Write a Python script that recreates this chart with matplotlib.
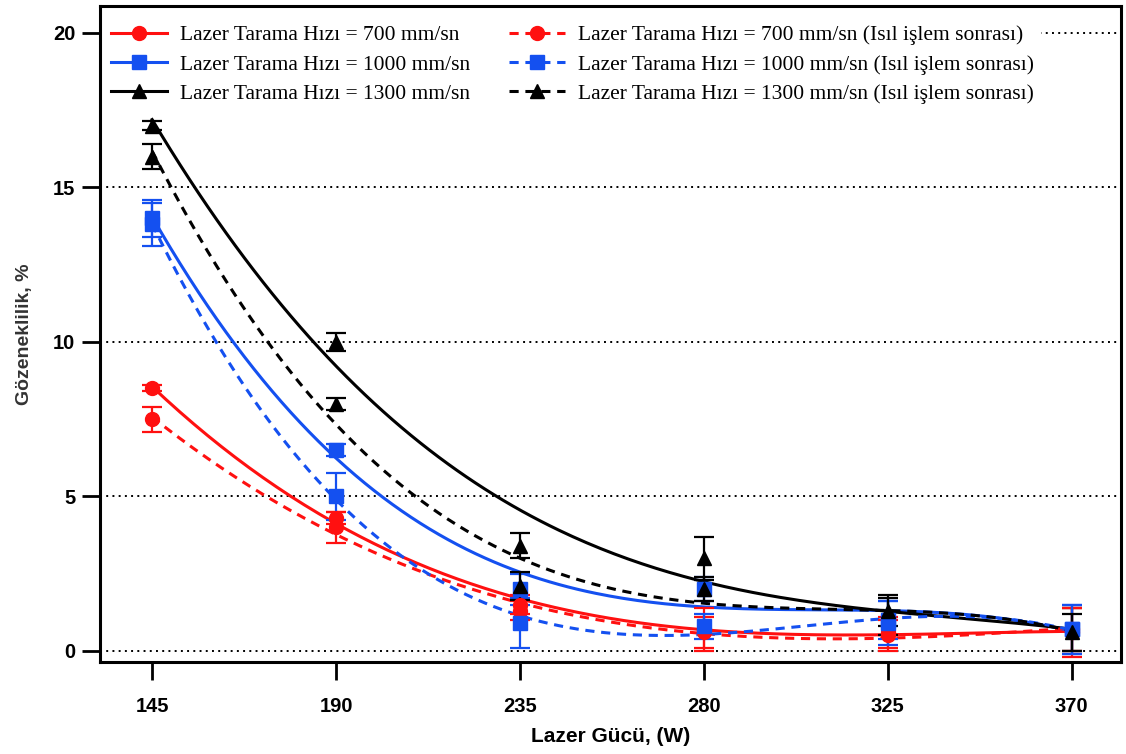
import numpy as np
import matplotlib
matplotlib.use("Agg")
import matplotlib.pyplot as plt
from matplotlib.lines import Line2D

# ── Data ─────────────────────────────────────────────────────────────────────
power = [145, 190, 235, 280, 325, 370]

v700 = [8.5, 4.3, 1.5, 0.7, 0.6, 0.6]
e700 = [0.1, 0.2, 0.3, 0.7, 0.5, 0.8]
v700_hs = [7.5, 4.0, 1.3, 0.6, 0.5, 0.7]
e700_hs = [0.4, 0.5, 0.3, 0.5, 0.5, 0.7]

v1000 = [14.0, 6.5, 2.0, 2.0, 1.0, 0.7]
e1000 = [0.6, 0.2, 0.5, 0.4, 0.6, 0.8]
v1000_hs = [13.8, 5.0, 0.9, 0.8, 0.9, 0.7]
e1000_hs = [0.7, 0.75, 0.8, 0.4, 0.7, 0.8]

v1300 = [17.0, 10.0, 3.4, 3.0, 1.1, 0.7]
e1300 = [0.15, 0.3, 0.4, 0.7, 0.6, 0.7]
v1300_hs = [16.0, 8.0, 2.1, 2.0, 1.3, 0.6]
e1300_hs = [0.4, 0.2, 0.45, 0.4, 0.5, 0.6]

labels = [
    "Lazer Tarama Hızı = 700 mm/sn",
    "Lazer Tarama Hızı = 1000 mm/sn",
    "Lazer Tarama Hızı = 1300 mm/sn",
    "Lazer Tarama Hızı = 700 mm/sn (Isıl işlem sonrası)",
    "Lazer Tarama Hızı = 1000 mm/sn (Isıl işlem sonrası)",
    "Lazer Tarama Hızı = 1300 mm/sn (Isıl işlem sonrası)",
]

RED, BLUE, BLACK = "#FF1010", "#1450F0", "#000000"
DASH = (3, 2.2)

series = [
    (v700, e700, RED, "o", False),
    (v1000, e1000, BLUE, "s", False),
    (v1300, e1300, BLACK, "^", False),
    (v700_hs, e700_hs, RED, "o", True),
    (v1000_hs, e1000_hs, BLUE, "s", True),
    (v1300_hs, e1300_hs, BLACK, "^", True),
]

fig = plt.figure(figsize=(11.26, 7.54), dpi=100)
ax = fig.add_axes([0.089, 0.122, 0.907, 0.870])

xs = np.linspace(145, 370, 200)
handles = []
for vals, errs, col, mk, dashed in series:
    # trend line: cubic least-squares fit of the measured points
    coef = np.polyfit(power, vals, 3)
    line, = ax.plot(xs, np.polyval(coef, xs), color=col, lw=2.2, zorder=3)
    if dashed:
        line.set_dashes(DASH)
    ax.errorbar(power, vals, yerr=errs, fmt=mk, color=col, ms=10,
                ecolor=col, elinewidth=1.6, capsize=7, capthick=1.6, zorder=4)
    h = Line2D([], [], color=col, lw=2.2, marker=mk, ms=10)
    if dashed:
        h.set_dashes(DASH)
    handles.append(h)

ax.set_xlim(132.3, 382.2)
ax.set_ylim(-0.36, 20.87)
ax.set_xticks(power)
ax.set_yticks([0, 5, 10, 15, 20])
ax.yaxis.grid(True, color="black", ls=(0, (1, 2.2)), lw=1.4)
ax.set_axisbelow(True)

for sp in ax.spines.values():
    sp.set_linewidth(2.2)
ax.tick_params(axis="both", direction="out", length=13, width=2, labelsize=14.5)
ax.tick_params(axis="x", pad=12)
ax.tick_params(axis="y", pad=5)
for t in ax.get_xticklabels() + ax.get_yticklabels():
    t.set_fontweight("bold")
    t.set_family("Liberation Sans")

ax.set_xlabel("Lazer Gücü, (W)", fontsize=15, fontweight="bold",
              family="Liberation Sans", labelpad=8)
ax.set_ylabel("Gözeneklilik, %", fontsize=14, fontweight="bold",
              family="Liberation Sans", color="#333333", labelpad=14)

leg = ax.legend(handles, labels, ncol=2, loc="upper left",
                bbox_to_anchor=(0.0, 0.987), frameon=True, framealpha=1,
                edgecolor="white", fancybox=False, handlelength=2.6,
                columnspacing=1.8, labelspacing=0.42, borderpad=0.3,
                borderaxespad=0.2, handletextpad=0.6,
                prop={"family": "Liberation Serif", "size": 15.5})

fig.savefig("out.png", dpi=100, facecolor="white")
